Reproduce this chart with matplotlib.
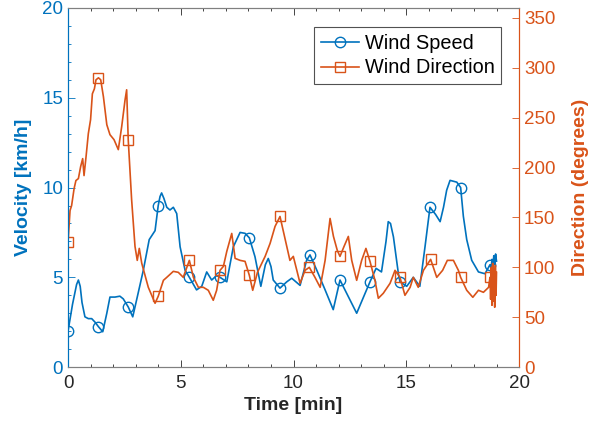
import numpy as np
import matplotlib
matplotlib.use("Agg")
import matplotlib.pyplot as plt
from matplotlib.ticker import MultipleLocator

plt.rcParams['font.family'] = ['Liberation Sans', 'DejaVu Sans']

# ---- data ----
speed_t = [0.0, 0.2, 0.38, 0.46, 0.54, 0.62, 0.75, 0.9, 1.05, 1.2, 1.35, 1.54, 1.72, 1.86, 2.08, 2.3, 2.45,
           2.67, 2.87, 3.07, 3.34, 3.6, 3.86, 4.0, 4.08, 4.15, 4.25, 4.38, 4.52, 4.67, 4.82, 4.97, 5.19,
           5.38, 5.7, 5.93, 6.15, 6.37, 6.59, 6.74, 7.04, 7.33, 7.63, 7.85, 8.04, 8.29,
           8.55, 8.75, 8.88, 9.0, 9.1, 9.4, 9.7, 9.92, 10.29, 10.58, 10.73, 11.03, 11.4, 11.76, 12.06,
           12.36, 12.8, 13.17, 13.39, 13.66, 13.9, 14.1, 14.2, 14.3, 14.43, 14.65, 14.72, 15.02,
           15.31, 15.6, 15.83, 16.05, 16.3, 16.5, 16.65, 16.79, 16.94, 17.24, 17.41, 17.53, 17.68,
           17.9, 18.2, 18.49, 18.71, 18.76, 18.8, 18.84, 18.88, 18.92, 18.96, 19.0]
speed_v = [2.0, 3.5, 4.6, 4.85, 4.5, 3.6, 2.8, 2.7, 2.7, 2.5, 2.25, 1.97, 3.0, 3.9, 3.9, 3.95, 3.8,
           3.35, 2.8, 3.9, 5.4, 7.1, 7.6, 9.0, 9.5, 9.7, 9.4, 8.9, 8.75, 8.9, 8.55, 6.7, 5.4,
           5.0, 4.3, 4.5, 5.3, 4.85, 5.1, 5.0, 4.75, 6.7, 7.5, 7.45, 7.2, 6.15,
           4.5, 5.7, 6.05, 5.6, 4.85, 4.4, 4.75, 4.95, 4.55, 5.95, 6.25, 5.4, 4.3, 3.2, 4.85,
           4.1, 3.0, 4.1, 4.75, 5.5, 5.3, 7.0, 8.1, 8.0, 7.25, 5.2, 4.75, 4.5,
           5.0, 4.5, 6.7, 8.9, 8.5, 8.1, 8.9, 9.85, 10.4, 10.3, 10.0, 8.4, 7.1,
           5.95, 5.3, 5.2, 5.7, 5.5, 6.0, 5.6, 6.2, 5.7, 6.3, 5.9]

dir_t = [0.0, 0.09, 0.16, 0.27, 0.35, 0.46, 0.56, 0.65, 0.71, 0.8, 0.9, 1.0, 1.08, 1.17, 1.24,
         1.35, 1.45, 1.57, 1.72, 1.86, 2.04, 2.23, 2.38, 2.53, 2.6, 2.67, 2.82, 2.97, 3.07,
         3.16, 3.27, 3.56, 3.86, 4.0, 4.23, 4.38, 4.67, 4.89, 5.11, 5.38, 5.56, 5.78, 6.0,
         6.22, 6.44, 6.59, 6.74, 6.89, 7.04, 7.26, 7.41, 7.63, 7.85, 8.04, 8.19, 8.4, 8.74,
         8.96, 9.18, 9.4, 9.62, 9.84, 9.99, 10.29, 10.51, 10.7, 10.95, 11.18, 11.4, 11.62,
         11.77, 11.94, 12.06, 12.24, 12.43, 12.58, 12.8, 13.02, 13.21, 13.39, 13.61, 13.76,
         13.98, 14.28, 14.5, 14.72, 14.94, 15.17, 15.31, 15.53, 15.76, 16.08, 16.35, 16.61,
         16.82, 17.09, 17.31, 17.41, 17.68, 17.95, 18.2, 18.42, 18.65, 18.71, 18.74, 18.77,
         18.8, 18.83, 18.86, 18.89, 18.92, 18.95, 18.98, 19.0]
dir_d = [125, 157, 162, 179, 187, 189, 201, 209, 192, 211, 234, 248, 274, 279, 288,
         290, 288, 271, 243, 233, 228, 218, 241, 268, 278, 228, 168, 121, 107,
         119, 104, 80, 64, 71, 87, 90, 96, 95, 90, 107, 90, 80, 80,
         77, 67, 77, 97, 101, 116, 134, 109, 107, 106, 92, 77, 95, 111,
         124, 141, 151, 129, 107, 111, 84, 97, 100, 90, 80, 107, 149,
         131, 117, 111, 121, 131, 107, 87, 107, 119, 106, 87, 69,
         74, 84, 97, 90, 72, 80, 90, 80, 97, 108, 90, 97,
         107, 107, 97, 90, 77, 70, 77, 75, 80, 90, 68, 100,
         62, 104, 66, 98, 60, 102, 72, 95]

speed_marker_t = [0, 1.35, 2.67, 4.0, 5.38, 6.74, 8.04, 9.4, 10.73, 12.06, 13.39, 14.72, 16.05, 17.41, 18.71]
dir_marker_t = [0, 1.35, 2.67, 4.0, 5.38, 6.74, 8.04, 9.4, 10.7, 12.06, 13.39, 14.72, 16.08, 17.41, 18.71]

blue = '#0072BD'
orange = '#D95319'
gray = '#262626'

fig = plt.figure(figsize=(5.93, 4.36), dpi=100)
ax = fig.add_axes([0.1147, 0.158, 0.7606, 0.8237])
ax2 = ax.twinx()

st = np.array(speed_t)
dt = np.array(dir_t)
sp_idx = [int(np.argmin(np.abs(st - m))) for m in speed_marker_t]
dr_idx = [int(np.argmin(np.abs(dt - m))) for m in dir_marker_t]

l1, = ax.plot(speed_t, speed_v, color=blue, lw=1.2, marker='o', ms=7.5, mfc='none',
              mec=blue, mew=1.0, markevery=sp_idx, label='Wind Speed')
l2, = ax2.plot(dir_t, dir_d, color=orange, lw=1.2, marker='s', ms=6.5, mfc='none',
               mec=orange, mew=1.0, markevery=dr_idx, label='Wind Direction')

ax.set_xlim(0, 20)
ax.set_ylim(0, 20)
ax2.set_ylim(0, 360)
ax.xaxis.set_major_locator(MultipleLocator(5))
ax.xaxis.set_minor_locator(MultipleLocator(1))
ax.yaxis.set_major_locator(MultipleLocator(5))
ax.yaxis.set_minor_locator(MultipleLocator(1))
ax2.yaxis.set_major_locator(MultipleLocator(50))

ax.tick_params(axis='x', which='both', direction='in', top=True, bottom=True,
               colors=gray, labelsize=13.5, pad=6)
ax.tick_params(axis='x', which='major', length=5, width=0.6)
ax.tick_params(axis='x', which='minor', length=2.5, width=0.6)
ax.tick_params(axis='y', which='both', direction='in', left=True, right=False,
               colors=blue, labelsize=13.5)
ax.tick_params(axis='y', which='major', length=5, width=0.6)
ax.tick_params(axis='y', which='minor', length=2.5, width=0.6)
ax2.tick_params(axis='y', which='both', direction='in', right=True, left=False,
                colors=orange, labelsize=13.5, length=5, width=0.6)

for a in (ax, ax2):
    a.spines['top'].set_color('#808080')
    a.spines['bottom'].set_color('#808080')
    a.spines['left'].set_color(blue)
    a.spines['right'].set_color(orange)
    for s in a.spines.values():
        s.set_linewidth(0.8)

ax.set_xlabel('Time [min]', fontsize=14, fontweight='bold', color=gray, labelpad=3)
ax.set_ylabel('Velocity [km/h]', fontsize=14, fontweight='bold', color=blue, labelpad=7)
ax2.set_ylabel('Direction (degrees)', fontsize=14, fontweight='bold', color=orange, labelpad=12)

leg = ax2.legend(handles=[l1, l2], loc='upper right', bbox_to_anchor=(0.96, 0.946),
                 fontsize=14.3, frameon=True, fancybox=False, edgecolor='#262626',
                 handlelength=1.9, borderpad=0.33, labelspacing=0.28, handletextpad=0.3,
                 borderaxespad=0.0)
leg.get_frame().set_linewidth(0.8)

fig.savefig('out.png', dpi=100, facecolor='white')
